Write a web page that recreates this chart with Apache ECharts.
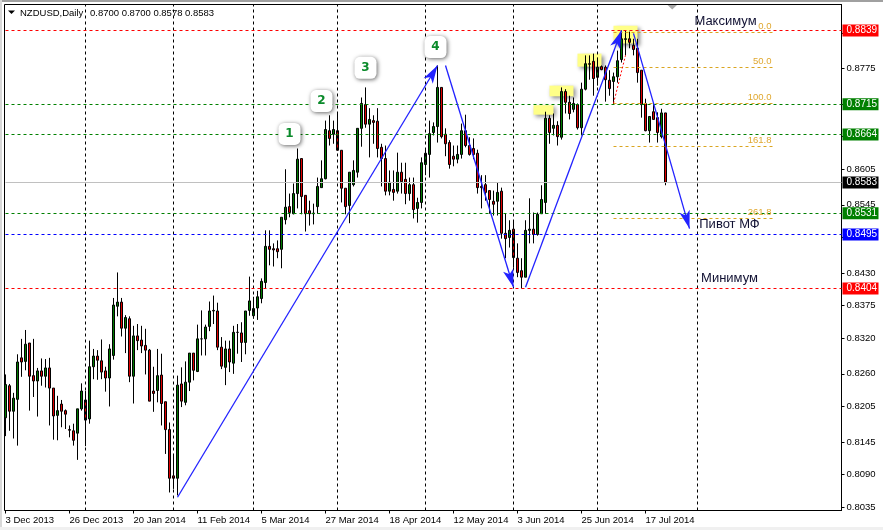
<!DOCTYPE html>
<html><head><meta charset="utf-8">
<style>html,body{margin:0;padding:0;background:#fff}#c{width:883px;height:530px}</style>
<script src="https://cdn.jsdelivr.net/npm/echarts@6/dist/echarts.min.js"></script>
</head><body><div id="c"></div>
<script>
const opens=[.8186,.8240,.8197,.8217,.8287,.8281,.8312,.8257,.8248,.8265,
.8256,.8270,.8236,.8190,.8209,.8198,.8166,.8164,.8160,.8201,
.8216,.8184,.8272,.8290,.8282,.8265,.8253,.8291,.8374,.8381,
.8337,.8353,.8256,.8324,.8317,.8308,.8300,.8231,.8232,.8258,
.8213,.8166,.8088,.8084,.8243,.8212,.8246,.8295,.8264,.8319,
.8319,.8340,.8367,.8366,.8305,.8271,.8302,.8278,.8330,.8329,
.8313,.8367,.8358,.8371,.8387,.8414,.8475,.8471,.8471,.8470,
.8520,.8542,.8530,.8564,.8623,.8561,.8535,.8531,.8542,.8574,
.8589,.8670,.8664,.8670,.8637,.8573,.8544,.8579,.8600,.8674,
.8714,.8681,.8687,.8686,.8642,.8623,.8568,.8571,.8568,.8600,
.8588,.8564,.8579,.8539,.8549,.8613,.8630,.8667,.8677,.8743,
.8664,.8650,.8627,.8622,.8630,.8670,.8645,.8640,.8632,.8576,
.8579,.8569,.8551,.8551,.8568,.8497,.8490,.8504,.8455,.8434,
.8423,.8502,.8504,.8495,.8530,.8549,.8691,.8674,.8679,.8659,
.8736,.8718,.8706,.8714,.8675,.8740,.8783,.8787,.8760,.8778,
.8777,.8755,.8753,.8761,.8790,.8824,.8825,.8814,.8809,.8772,
.8716,.8670,.8702,.8692,.8660,.8700];
const closes=[.8242,.8197,.8219,.8280,.8280,.8310,.8256,.8248,.8265,.8256,
.8270,.8236,.8189,.8198,.8197,.8192,.8165,.8148,.8201,.8231,
.8182,.8272,.8290,.8283,.8263,.8253,.8302,.8376,.8381,.8337,
.8355,.8256,.8324,.8316,.8307,.8300,.8214,.8227,.8257,.8210,
.8166,.8084,.8084,.8241,.8214,.8246,.8295,.8266,.8319,.8319,
.8339,.8366,.8366,.8305,.8273,.8302,.8280,.8330,.8330,.8313,
.8366,.8383,.8370,.8390,.8416,.8475,.8470,.8469,.8466,.8524,
.8541,.8532,.8564,.8622,.8559,.8530,.8530,.8530,.8576,.8589,
.8672,.8657,.8672,.8637,.8573,.8542,.8600,.8603,.8674,.8716,
.8681,.8689,.8684,.8640,.8623,.8568,.8583,.8566,.8600,.8584,
.8564,.8579,.8537,.8549,.8616,.8632,.8665,.8677,.8743,.8660,
.8648,.8613,.8622,.8630,.8670,.8645,.8630,.8630,.8574,.8574,
.8566,.8554,.8546,.8566,.8497,.8488,.8502,.8456,.8431,.8423,
.8502,.8504,.8495,.8529,.8554,.8691,.8667,.8679,.8660,.8736,
.8718,.8699,.8716,.8675,.8740,.8783,.8782,.8758,.8777,.8773,
.8756,.8741,.8761,.8788,.8825,.8825,.8819,.8807,.8768,.8714,
.8670,.8694,.8689,.8667,.8700,.8583];
const highs=[.8259,.8243,.8228,.8293,.8319,.8334,.8312,.8319,.8270,.8286,
.8285,.8287,.8236,.8223,.8216,.8200,.8173,.8176,.8201,.8244,
.8231,.8316,.8302,.8300,.8318,.8272,.8310,.8388,.8431,.8388,
.8359,.8357,.8341,.8344,.8341,.8336,.8302,.8272,.8302,.8294,
.8213,.8178,.8125,.8257,.8271,.8281,.8295,.8295,.8343,.8367,
.8343,.8382,.8392,.8380,.8322,.8316,.8316,.8341,.8344,.8347,
.8366,.8424,.8390,.8400,.8421,.8502,.8502,.8480,.8485,.8524,
.8605,.8564,.8581,.8640,.8623,.8561,.8552,.8547,.8591,.8620,
.8687,.8696,.8687,.8699,.8637,.8573,.8600,.8620,.8674,.8726,
.8743,.8708,.8696,.8708,.8648,.8645,.8603,.8603,.8633,.8616,
.8616,.8591,.8591,.8557,.8625,.8640,.8687,.8684,.8780,.8743,
.8674,.8654,.8645,.8645,.8682,.8697,.8659,.8657,.8638,.8595,
.8595,.8569,.8569,.8583,.8574,.8530,.8519,.8519,.8480,.8455,
.8519,.8556,.8532,.8532,.8578,.8702,.8696,.8699,.8686,.8743,
.8740,.8729,.8726,.8716,.8751,.8797,.8797,.8800,.8793,.8780,
.8780,.8772,.8768,.8805,.8839,.8839,.8837,.8825,.8825,.8772,
.8724,.8694,.8716,.8701,.8707,.8700];
const lows=[.8155,.8164,.8151,.8139,.8255,.8266,.8198,.8221,.8188,.8240,
.8237,.8173,.8149,.8148,.8170,.8167,.8153,.8139,.8115,.8198,
.8138,.8176,.8251,.8250,.8251,.8230,.8205,.8284,.8357,.8323,
.8295,.8246,.8210,.8300,.8295,.8259,.8214,.8196,.8212,.8173,
.8125,.8060,.8066,.8055,.8204,.8207,.8231,.8249,.8263,.8291,
.8291,.8332,.8344,.8300,.8268,.8241,.8263,.8260,.8294,.8280,
.8293,.8358,.8353,.8351,.8379,.8404,.8443,.8441,.8455,.8438,
.8512,.8524,.8529,.8539,.8529,.8500,.8510,.8512,.8530,.8574,
.8588,.8645,.8648,.8637,.8549,.8529,.8514,.8576,.8591,.8643,
.8675,.8625,.8648,.8625,.8576,.8561,.8561,.8552,.8564,.8564,
.8546,.8552,.8522,.8515,.8539,.8595,.8591,.8662,.8650,.8657,
.8627,.8606,.8610,.8615,.8623,.8642,.8628,.8622,.8564,.8539,
.8552,.8530,.8527,.8527,.8488,.8455,.8473,.8439,.8423,.8404,
.8423,.8480,.8480,.8493,.8530,.8530,.8648,.8662,.8645,.8655,
.8699,.8689,.8701,.8672,.8662,.8738,.8756,.8729,.8746,.8772,
.8719,.8729,.8714,.8751,.8785,.8797,.8809,.8797,.8751,.8692,
.8669,.8650,.8689,.8650,.8657,.8578];

const slotCount=210;
const tickEvery=16;
const dateLabels=['3 Dec 2013','26 Dec 2013','20 Jan 2014','11 Feb 2014','5 Mar 2014','27 Mar 2014','18 Apr 2014','12 May 2014','3 Jun 2014','25 Jun 2014','17 Jul 2014'];
const priceTicks=[.8035,.8090,.8145,.8205,.8260,.8320,.8375,.8430,.8490,.8545,.8605,.8660,.8715,.8775,.8835];
const monthSeparators=[20,42,62,83,105,127,148,173];
const levels=[[.88390,'#ff0000'],[.87146,'#008000'],[.86637,'#008000'],[.85308,'#008000'],[.84950,'#0000ff'],[.84040,'#ff0000']];
const lastPrice=.85827;
const fibo=[['0.0',.8836],['50.0',.8777],['100.0',.8716],['161.8',.8643],['261.8',.8523]];
const fiboSpan=[152,192];
const trend=[[43,.8052,108,.8780],[110,.8780,127,.8406],[130,.8406,154,.8839],[157,.8834,171,.8505]];
const highlights=[[132,137,.8713,.8697],[136,142,.8746,.8728],[143,149,.8800,.8778],[152,158,.8847,.8817]];
const waves=[['1',71,.86645,0],['2',79,.8720,0],['3',90,.8776,0],['4',108,.8811,-2]];
const notes=[['Максимум',180,.8854],['Пивот МФ',181,.8512],['Минимум',181,.8421]];

const FONT='"Liberation Sans",Arial,sans-serif';
const SMALL=9.5;
const categories=Array.from({length:slotCount},(_,i)=>i%tickEvery===0&&dateLabels[i/tickEvery]?dateLabels[i/tickEvery]:' '+i);
const candles=opens.map((o,i)=>[o,closes[i],lows[i],highs[i]]);
const isLabelled=i=>i%tickEvery===0&&i/tickEvery<dateLabels.length;
const chip=(c)=>({show:true,position:'end',distance:1,formatter:p=>p.value.toFixed(4),color:'#fff',backgroundColor:c,padding:[2,4,1,4],fontFamily:FONT,fontSize:10,width:28,height:9,lineHeight:9,align:'left'});

const chart=echarts.init(document.getElementById('c'),null,{renderer:'canvas'});
chart.setOption({
 animation:false,
 backgroundColor:'#fff',
 textStyle:{fontFamily:FONT},
 grid:{left:5.5,top:4.5,width:836,height:506,show:false,containLabel:false,outerBoundsMode:'none'},
 title:{show:false},
 xAxis:{type:'category',data:categories,boundaryGap:false,
  axisLine:{show:true,onZero:false,lineStyle:{color:'#000',width:1}},
  axisTick:{show:true,length:3,interval:(i)=>isLabelled(i),lineStyle:{color:'#000'}},
  axisLabel:{show:true,interval:(i)=>isLabelled(i),align:'left',margin:5,color:'#000',fontSize:SMALL,fontFamily:FONT,hideOverlap:false,showMinLabel:true},
  splitLine:{show:false}},
 yAxis:{type:'value',position:'right',min:.80296,max:.88828,scale:true,
  axisLine:{show:true,lineStyle:{color:'#000',width:1}},
  axisTick:{show:true,length:3,customValues:priceTicks,lineStyle:{color:'#000'}},
  axisLabel:{show:true,customValues:priceTicks,margin:5,color:'#000',fontSize:SMALL,fontFamily:FONT,formatter:v=>v.toFixed(4)},
  splitLine:{show:false}},
 graphic:[
  {type:'rect',silent:true,z:0,shape:{x:0,y:0,width:883,height:2},style:{fill:'#a0a0a0'}},
  {type:'rect',silent:true,z:0,shape:{x:0,y:0,width:2,height:530},style:{fill:'#d8d8d8'}},
  {type:'rect',silent:true,z:0,shape:{x:0,y:527,width:883,height:3},style:{fill:'#f0f0f0'}},
  {type:'rect',silent:true,z:0,shape:{x:4.5,y:4.5,width:837,height:506},style:{fill:'none',stroke:'#000',lineWidth:1}},
  {type:'polygon',silent:true,z:0,shape:{points:[[667.5,5],[677,5],[672.2,9.5]]},style:{fill:'#a8a8a8'}},
  {type:'polygon',silent:true,z:50,shape:{points:[[8,10.5],[15,10.5],[11.5,14]]},style:{fill:'#000'}},
  {type:'text',silent:true,z:50,left:20,top:8,style:{text:'NZDUSD,Daily',fill:'#000',font:SMALL+'px '+FONT}},
  {type:'text',silent:true,z:50,left:90,top:8,style:{text:'0.8700 0.8700 0.8578 0.8583',fill:'#000',font:SMALL+'px '+FONT}}
 ],
 series:[
  {type:'line',name:'levels',data:[],z:1,silent:true,
   markArea:{silent:true,itemStyle:{color:'#ffff88',shadowBlur:4,shadowColor:'rgba(0,0,0,.45)',shadowOffsetX:2,shadowOffsetY:2},
    data:highlights.map(h=>[{coord:[h[0],h[2]]},{coord:[h[1],h[3]]}])},
   markLine:{silent:true,symbol:'none',animation:false,precision:5,data:[
    ...monthSeparators.map(i=>({xAxis:i,label:{show:false},lineStyle:{color:'#000',type:[3,3],width:1}})),
    {yAxis:lastPrice,label:chip('#000'),lineStyle:{color:'#c0c0c0',type:'solid',width:1}},
    ...levels.map(l=>({yAxis:l[0],label:chip(l[1]),lineStyle:{color:l[1],type:[3,3],width:1}})),
    ...fibo.map(f=>[
      {coord:[fiboSpan[0],f[1]],lineStyle:{color:'#daa520',type:[3,3],width:1},
       label:{show:true,position:'insideEndTop',distance:2,offset:[0,1],formatter:f[0],color:'#e0a830',fontSize:SMALL,fontFamily:FONT}},
      {coord:[fiboSpan[1],f[1]]}]),
    [{coord:[152,.8716],lineStyle:{color:'#ff0000',type:[2,2],width:1},label:{show:false}},{coord:[155,.8797]}]
   ]}},
  {type:'candlestick',name:'NZDUSD',data:candles,z:2,barWidth:2,silent:true,
   itemStyle:{color:'#007a00',color0:'#e00000',borderColor:'#000',borderColor0:'#000',borderWidth:1}},
  {type:'line',name:'overlay',data:[],z:3,silent:true,
   markLine:{silent:true,symbol:['none','arrow'],symbolSize:[8,18],animation:false,label:{show:false},
    lineStyle:{color:'#2222ff',type:'solid',width:1.3},
    data:trend.map(t=>[{coord:[t[0],t[1]]},{coord:[t[2],t[3]]}])},
   markPoint:{silent:true,animation:false,data:[
    ...waves.map(w=>({coord:[w[1],w[2]],symbol:'roundRect',symbolSize:[22,22],symbolOffset:[w[3],0],
      itemStyle:{color:'#fff',shadowBlur:4,shadowColor:'rgba(0,0,0,.6)',shadowOffsetX:1,shadowOffsetY:1},
      label:{show:true,position:'inside',formatter:w[0],color:'#0a8a2a',fontSize:12,fontWeight:'bold',fontFamily:'"DejaVu Sans",sans-serif'}})),
    ...notes.map(n=>({coord:[n[1],n[2]],symbol:'circle',symbolSize:1,itemStyle:{color:'rgba(0,0,0,0)'},
      label:{show:true,position:'inside',formatter:n[0],color:'#111133',fontSize:13,fontFamily:FONT}}))
   ]}}
 ]
});
</script></body></html>
